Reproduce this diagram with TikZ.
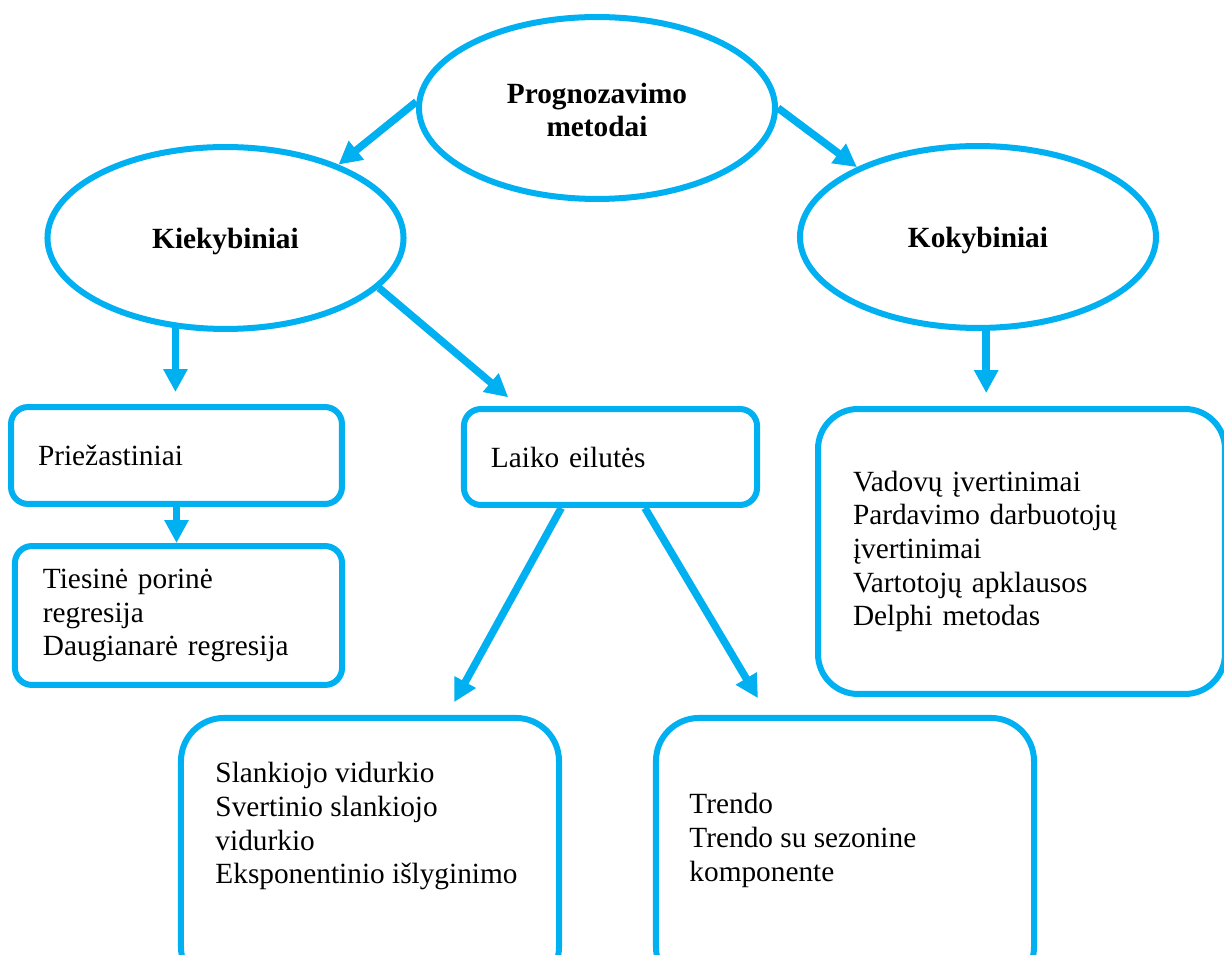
\documentclass[tikz,border=0pt]{standalone}
\usepackage{fontspec}
\setmainfont{Liberation Serif}
\usetikzlibrary{shapes.geometric,arrows.meta}
\definecolor{wordblue}{RGB}{0,176,240}

\begin{document}
\begin{tikzpicture}[x=0.4095pt, y=-0.4095pt,
		every node/.style={font=\fontsize{12}{13.8}\selectfont},
		oval/.style={ellipse, draw=wordblue, line width=2.46pt, minimum width=145.8pt, minimum height=74.5pt, inner sep=0pt, align=center, text height=11.6pt, font=\fontsize{12}{13.8}\selectfont\bfseries},
		box/.style={rectangle, draw=wordblue, line width=2.46pt, rounded corners=6.96pt, align=left, inner ysep=0pt},
		bigbox/.style={box, rounded corners=17.6pt, minimum width=154.8pt, minimum height=111.4pt, inner sep=0pt},
		txt/.style={inner sep=0pt, align=left, anchor=north west},
		arr/.style={wordblue, line width=3.07pt, -{Triangle[length=9.4pt, width=9.4pt]}}]
				\useasboundingbox (0,0) rectangle (1224,955);
				\clip (0,0) rectangle (1224,955);

				% ovals
				\node[oval, text height=23.8pt] (top) at (597,108) {Prognozavimo\\metodai};
				\node[oval] (kiek) at (225.5,238) {Kiekybiniai};
				\node[oval] (kok) at (978,237) {Kokybiniai};

				% boxes
				\node[box, text width=113.4pt, inner xsep=11.06pt, minimum height=39.7pt] (prz) at (176.5,455.5) {Priežastiniai};
				\node[box, text width=97.9pt, inner xsep=11.06pt, minimum height=39.3pt] (laiko) at (610.5,457) {Laiko eilutės};
				\node[box, text width=111pt, inner xsep=11.47pt, minimum height=56.9pt] (ties) at (178.5,615.5) {Tiesinė porinė\\regresija\\Daugianarė regresija};
				\node[box, rounded corners=16.4pt, text width=138pt, inner xsep=14.33pt, minimum height=116.7pt] (vad) at (1021.5,551.5) {Vadovų įvertinimai\\Pardavimo darbuotojų\\įvertinimai\\Vartotojų apklausos\\Delphi metodas};
				\node[bigbox] (slank) at (370,854) {};
				\node[bigbox] (trend) at (845,854) {};
				\node[txt] (slanktxt) at (215,762) {Slankiojo vidurkio\\Svertinio slankiojo\\vidurkio\\Eksponentinio išlyginimo};
				\node[txt] (trendtxt) at (689,793) {Trendo\\Trendo su sezonine\\komponente};

				% arrows
				\draw[arr] (top.178) -- (kiek.33);
				\draw[arr] (top.east) -- (kok.150);
				\draw[arr, shorten >=4.9pt] (kiek.241) -- (kiek.241 |- prz.north);
				\draw[arr, shorten >=5.5pt] (kiek.-18) -- (laiko.151);
				\draw[arr, shorten >=5.3pt] (kok.275) -- (kok.275 |- vad.north);
				\draw[arr] (prz.south) -- (prz.south |- ties.north);
				\draw[arr, shorten >=6pt] (laiko.226) -- (slank.61);
				\draw[arr, shorten >=8pt] (laiko.304) -- (trend.119);
		\end{tikzpicture}
\end{document}
